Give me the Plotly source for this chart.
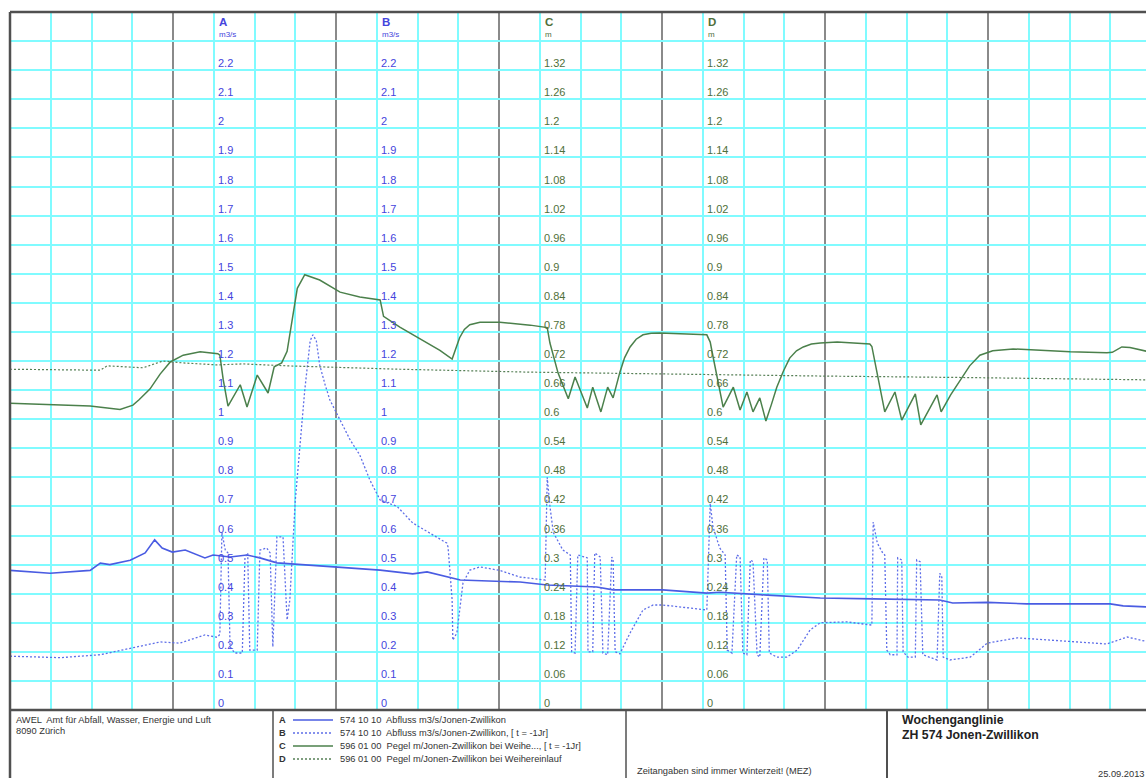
import plotly.graph_objects as go

# ---------------------------------------------------------------------------
# Wochenganglinie ZH 574 Jonen-Zwillikon - one week, time in hours
# ---------------------------------------------------------------------------

# A: Abfluss m3/s (current)
a_hours = [0, 5.9, 11.8, 13.3, 14.7, 17.7, 19.9, 21.3, 22.4, 23.9,
           25.8, 28.7, 29.9, 32.4, 34.9, 36.8, 39.3, 41.7, 47.6, 54.5,
           59.3, 61.4, 66.3, 69.2, 75.1, 79.1, 86.4, 88.8, 96.1, 102.6,
           104.5, 111.5, 119.3, 127.1, 136.9, 138.8, 143.9, 149.7, 162.0, 163.9,
           168]
a_flow = [0.48, 0.47, 0.48, 0.505, 0.50, 0.515, 0.54, 0.585, 0.557, 0.543,
          0.55, 0.523, 0.533, 0.526, 0.533, 0.523, 0.506, 0.502, 0.492, 0.481,
          0.468, 0.475, 0.447, 0.444, 0.44, 0.43, 0.423, 0.413, 0.413, 0.402,
          0.405, 0.395, 0.385, 0.382, 0.378, 0.368, 0.37, 0.365, 0.365, 0.358,
          0.354]

# B: Abfluss m3/s, previous year [t = -1Jr]
b_hours = [0, 7.4, 13.3, 17.7, 22.1, 25.0, 28.7, 30.5, 30.9, 31.2,
           31.7, 32.1, 32.4, 33.1, 34.2, 34.6, 35.0, 35.3, 36.4, 36.8,
           37.8, 38.3, 38.7, 39.3, 40.2, 40.8, 41.2, 42.0, 43.4, 44.2,
           44.6, 45.1, 45.6, 46.4, 47.1, 48.6, 50.1, 51.5, 53.0, 54.5,
           57.0, 59.3, 61.8, 64.3, 64.5, 65.1, 65.2, 65.8, 66.7, 67.7,
           69.2, 72.1, 75.1, 78.8, 79.1, 79.5, 80.0, 81.4, 82.5, 82.7,
           83.2, 83.6, 85.0, 85.1, 85.8, 86.1, 86.9, 87.3, 88.0, 88.6,
           88.8, 89.1, 89.8, 91.3, 93.2, 94.7, 96.1, 102.6, 103.1, 103.5,
           104.5, 105.3, 105.6, 106.3, 107.0, 107.5, 107.9, 108.5, 109.0, 109.4,
           110.0, 110.4, 111.0, 111.5, 111.8, 112.9, 114.4, 115.9, 117.8, 119.3,
           123.2, 126.9, 127.1, 127.7, 128.5, 128.8, 129.1, 129.6, 130.6, 130.7,
           131.3, 131.5, 132.2, 133.3, 133.5, 134.0, 134.4, 136.5, 136.9, 137.2,
           137.4, 138.4, 141.4, 143.9, 148.3, 153.6, 161.5, 164.5, 168]
b_flow = [0.185, 0.18, 0.19, 0.213, 0.234, 0.23, 0.258, 0.25, 0.26, 0.61,
          0.55, 0.54, 0.217, 0.196, 0.196, 0.526, 0.54, 0.206, 0.206, 0.55,
          0.557, 0.54, 0.217, 0.595, 0.595, 0.31, 0.378, 0.72, 1.10, 1.27,
          1.29, 1.27, 1.186, 1.118, 1.066, 0.997, 0.928, 0.877, 0.79, 0.722,
          0.70, 0.643, 0.609, 0.574, 0.56, 0.378, 0.24, 0.265, 0.437, 0.481,
          0.492, 0.48, 0.457, 0.447, 0.80, 0.70, 0.61, 0.55, 0.533, 0.2,
          0.196, 0.533, 0.523, 0.2, 0.2, 0.54, 0.526, 0.196, 0.19, 0.526,
          0.516, 0.2, 0.193, 0.265, 0.344, 0.361, 0.361, 0.344, 0.71, 0.63,
          0.557, 0.533, 0.206, 0.196, 0.533, 0.526, 0.196, 0.19, 0.516, 0.51,
          0.19, 0.182, 0.523, 0.516, 0.196, 0.182, 0.182, 0.206, 0.275, 0.30,
          0.303, 0.292, 0.646, 0.574, 0.54, 0.533, 0.206, 0.19, 0.19, 0.523,
          0.516, 0.2, 0.182, 0.182, 0.516, 0.51, 0.19, 0.172, 0.47, 0.457,
          0.182, 0.172, 0.182, 0.23, 0.248, 0.24, 0.227, 0.251, 0.232]

# C: Pegel m bei Weihe..., previous year [t = -1Jr]
c_hours = [0, 5.9, 11.8, 16.2, 18.1, 19.0, 20.6, 22.1, 23.6, 25.5,
           28.0, 30.6, 30.9, 31.4, 32.1, 33.9, 34.9, 36.4, 38.0, 38.9,
           40.0, 40.8, 41.5, 42.3, 43.4, 45.6, 48.6, 51.5, 54.5, 55.0,
           57.4, 60.4, 63.3, 65.1, 65.6, 66.2, 66.9, 67.7, 69.2, 72.1,
           76.6, 79.1, 79.5, 80.7, 82.2, 83.2, 85.0, 85.8, 87.0, 88.0,
           88.8, 89.8, 90.5, 91.3, 92.2, 93.2, 94.4, 95.7, 102.6, 103.1,
           103.4, 104.1, 105.0, 106.5, 107.5, 108.5, 109.4, 110.4, 111.3, 112.1,
           112.9, 113.9, 114.8, 115.8, 116.8, 118.0, 119.3, 121.8, 126.6, 126.9,
           128.8, 130.3, 131.3, 133.3, 134.1, 136.5, 137.1, 138.5, 139.9, 141.3,
           142.8, 144.7, 147.7, 156.1, 161.5, 162.3, 163.7, 164.9, 168]
c_level = [0.633, 0.630, 0.627, 0.620, 0.629, 0.640, 0.662, 0.693, 0.718, 0.732,
           0.739, 0.735, 0.732, 0.681, 0.627, 0.671, 0.625, 0.691, 0.654, 0.708,
           0.716, 0.740, 0.800, 0.870, 0.898, 0.887, 0.862, 0.852, 0.846, 0.812,
           0.790, 0.765, 0.742, 0.724, 0.745, 0.768, 0.785, 0.795, 0.800, 0.800,
           0.794, 0.789, 0.757, 0.695, 0.642, 0.687, 0.623, 0.666, 0.615, 0.666,
           0.644, 0.697, 0.727, 0.749, 0.765, 0.774, 0.777, 0.778, 0.774, 0.759,
           0.737, 0.687, 0.625, 0.666, 0.619, 0.656, 0.615, 0.644, 0.596, 0.630,
           0.666, 0.700, 0.726, 0.741, 0.749, 0.755, 0.757, 0.759, 0.755, 0.750,
           0.615, 0.656, 0.598, 0.652, 0.588, 0.650, 0.615, 0.650, 0.681, 0.710,
           0.732, 0.741, 0.745, 0.739, 0.737, 0.738, 0.749, 0.748, 0.738]

# D: Pegel m bei Weihereinlauf (current)
d_hours = [0, 13.3, 14.3, 19.6, 22.5, 25.5, 30.5, 34.3, 40.8, 57.4,
           76.6, 95.7, 119.3, 140.0, 168]
d_level = [0.703, 0.701, 0.710, 0.706, 0.720, 0.716, 0.712, 0.714, 0.710, 0.703,
           0.697, 0.693, 0.689, 0.686, 0.681]

# Scale labels
flow_ticks = [0, 0.1, 0.2, 0.3, 0.4, 0.5, 0.6, 0.7, 0.8, 0.9, 1.0, 1.1,
              1.2, 1.3, 1.4, 1.5, 1.6, 1.7, 1.8, 1.9, 2.0, 2.1, 2.2]
flow_tick_text = ["0", "0.1", "0.2", "0.3", "0.4", "0.5", "0.6", "0.7", "0.8",
                  "0.9", "1", "1.1", "1.2", "1.3", "1.4", "1.5", "1.6", "1.7",
                  "1.8", "1.9", "2", "2.1", "2.2"]
level_ticks = [0, 0.06, 0.12, 0.18, 0.24, 0.30, 0.36, 0.42, 0.48, 0.54, 0.60,
               0.66, 0.72, 0.78, 0.84, 0.90, 0.96, 1.02, 1.08, 1.14, 1.20,
               1.26, 1.32]
level_tick_text = ["0", "0.06", "0.12", "0.18", "0.24", "0.3", "0.36", "0.42",
                   "0.48", "0.54", "0.6", "0.66", "0.72", "0.78", "0.84", "0.9",
                   "0.96", "1.02", "1.08", "1.14", "1.2", "1.26", "1.32"]

# Scale columns: letter, unit, hour position
scale_letters = ["A", "B", "C", "D"]
scale_units = ["m3/s", "m3/s", "m", "m"]
scale_hours = [30, 54, 78, 102]

legend_codes = ["574 10 10", "574 10 10", "596 01 00", "596 01 00"]
legend_names = ["Abfluss m3/s/Jonen-Zwillikon",
                "Abfluss m3/s/Jonen-Zwillikon, [ t = -1Jr]",
                "Pegel m/Jonen-Zwillikon bei Weihe..., [ t = -1Jr]",
                "Pegel m/Jonen-Zwillikon bei Weihereinlauf"]

# ---------------------------------------------------------------------------
W, H = 1146, 778
PL, PT, PB = 10, 12, 710          # plot area edges (px)
FONT = "Liberation Sans, Arial, sans-serif"

BLUE = "#4a5ce2"
BLUE_DOT = "#5e6ee8"
GREEN = "#4b804b"
GREEN_DOT = "#557f55"
BLUE_TXT = "#4444dd"
GREEN_TXT = "#4f6f3a"
CYAN = "#80fbff"
DAYLINE = "#8a8a8a"
FRAME = "#505050"


def px_x(x):
    return (x - PL) / (W - PL)


def px_y(y):
    return (PB - y) / (PB - PT)


fig = go.Figure()
fig.add_trace(go.Scatter(x=a_hours, y=a_flow, mode="lines", yaxis="y",
                         line=dict(color=BLUE, width=1.6), hoverinfo="skip"))
fig.add_trace(go.Scatter(x=b_hours, y=b_flow, mode="lines", yaxis="y",
                         line=dict(color=BLUE_DOT, width=1.3, dash="2px,2px"),
                         hoverinfo="skip"))
fig.add_trace(go.Scatter(x=c_hours, y=c_level, mode="lines", yaxis="y2",
                         line=dict(color=GREEN, width=1.5), hoverinfo="skip"))
fig.add_trace(go.Scatter(x=d_hours, y=d_level, mode="lines", yaxis="y2",
                         line=dict(color=GREEN_DOT, width=1.2, dash="2px,2px"),
                         hoverinfo="skip"))

annotations = []

# numeric labels of the four scales
for letter, unit, hr in zip(scale_letters, scale_units, scale_hours):
    is_flow = letter in ("A", "B")
    ticks = flow_ticks if is_flow else level_ticks
    texts = flow_tick_text if is_flow else level_tick_text
    col = BLUE_TXT if is_flow else GREEN_TXT
    yref = "y" if is_flow else "y2"
    for v, t in zip(ticks, texts):
        annotations.append(dict(x=hr, y=v, xref="x", yref=yref, text=t,
                                showarrow=False, xanchor="left", yanchor="bottom",
                                xshift=3, yshift=0, borderpad=0,
                                font=dict(family=FONT, size=11, color=col)))
    annotations.append(dict(x=hr, y=px_y(22), xref="x", yref="paper",
                            text="<b>%s</b>" % letter, showarrow=False,
                            xanchor="left", yanchor="middle", xshift=3,
                            font=dict(family=FONT, size=11.5, color=col)))
    annotations.append(dict(x=hr, y=px_y(34), xref="x", yref="paper",
                            text=unit, showarrow=False,
                            xanchor="left", yanchor="middle", xshift=3,
                            font=dict(family=FONT, size=8, color=col)))

# footer block
small = dict(family=FONT, size=9.3, color="#333333")
annotations += [
    dict(x=px_x(14), y=px_y(720), text="AWEL  Amt für Abfall, Wasser, Energie und Luft"),
    dict(x=px_x(14), y=px_y(731), text="8090 Zürich"),
    dict(x=px_x(635), y=px_y(771), text="Zeitangaben sind immer Winterzeit! (MEZ)"),
    dict(x=px_x(1096), y=px_y(774), text="25.09.2013"),
]
for a in annotations[-4:]:
    a.update(xref="paper", yref="paper", showarrow=False, xanchor="left",
             yanchor="middle", font=small)

annotations.append(dict(x=px_x(900), y=px_y(720), xref="paper", yref="paper",
                        text="<b>Wochenganglinie</b>", showarrow=False,
                        xanchor="left", yanchor="middle",
                        font=dict(family=FONT, size=12.3, color="#222222")))
annotations.append(dict(x=px_x(900), y=px_y(735), xref="paper", yref="paper",
                        text="<b>ZH 574 Jonen-Zwillikon</b>", showarrow=False,
                        xanchor="left", yanchor="middle",
                        font=dict(family=FONT, size=12.3, color="#222222")))

shapes = []
legend_rows = [720, 733, 746, 759]
legend_styles = [(BLUE, "solid"), (BLUE_DOT, "2px,2px"),
                 (GREEN, "solid"), (GREEN_DOT, "2px,2px")]
for row, letter, code, name, (col, dash) in zip(legend_rows, scale_letters,
                                                 legend_codes, legend_names,
                                                 legend_styles):
    annotations.append(dict(x=px_x(277), y=px_y(row), xref="paper", yref="paper",
                            text="<b>%s</b>" % letter, showarrow=False,
                            xanchor="left", yanchor="middle",
                            font=dict(family=FONT, size=9.3, color="#333333")))
    annotations.append(dict(x=px_x(338), y=px_y(row), xref="paper", yref="paper",
                            text="%s  %s" % (code, name), showarrow=False,
                            xanchor="left", yanchor="middle", font=small))
    shapes.append(dict(type="line", xref="paper", yref="paper",
                       x0=px_x(293), x1=px_x(333), y0=px_y(row), y1=px_y(row),
                       line=dict(color=col, width=1.6, dash=dash)))

# frame lines
bottom = px_y(H + 2)
shapes += [
    dict(type="line", xref="paper", yref="paper", x0=0, x1=0, y0=bottom, y1=1,
         line=dict(color=FRAME, width=2.5)),
    dict(type="line", xref="paper", yref="paper", x0=0, x1=1.01, y0=1, y1=1,
         line=dict(color=FRAME, width=2.5)),
    dict(type="line", xref="paper", yref="paper", x0=0, x1=1.01, y0=0, y1=0,
         line=dict(color=FRAME, width=2.5)),
]
for sx, w in [(273, 1.5), (626, 1.5), (887, 2)]:
    shapes.append(dict(type="line", xref="paper", yref="paper",
                       x0=px_x(sx), x1=px_x(sx), y0=bottom, y1=0,
                       line=dict(color=FRAME, width=w)))

fig.update_layout(
    width=W, height=H,
    margin=dict(l=PL, r=0, t=PT, b=H - PB, pad=0),
    paper_bgcolor="white", plot_bgcolor="white",
    showlegend=False,
    xaxis=dict(range=[0, (W - PL) / 163 * 24], tick0=0, dtick=24,
               showgrid=True, gridcolor=DAYLINE, gridwidth=2,
               minor=dict(tick0=0, dtick=6, showgrid=True, gridcolor=CYAN,
                          gridwidth=1.5),
               showticklabels=False, ticks="", zeroline=False, showline=False),
    yaxis=dict(range=[0, 2.4], tick0=0, dtick=0.1, showgrid=True,
               gridcolor=CYAN, gridwidth=1.5, showticklabels=False, ticks="",
               zeroline=False, showline=False),
    yaxis2=dict(range=[0, 1.44], overlaying="y", visible=False),
    annotations=annotations,
    shapes=shapes,
)

fig.write_html("out.html")
